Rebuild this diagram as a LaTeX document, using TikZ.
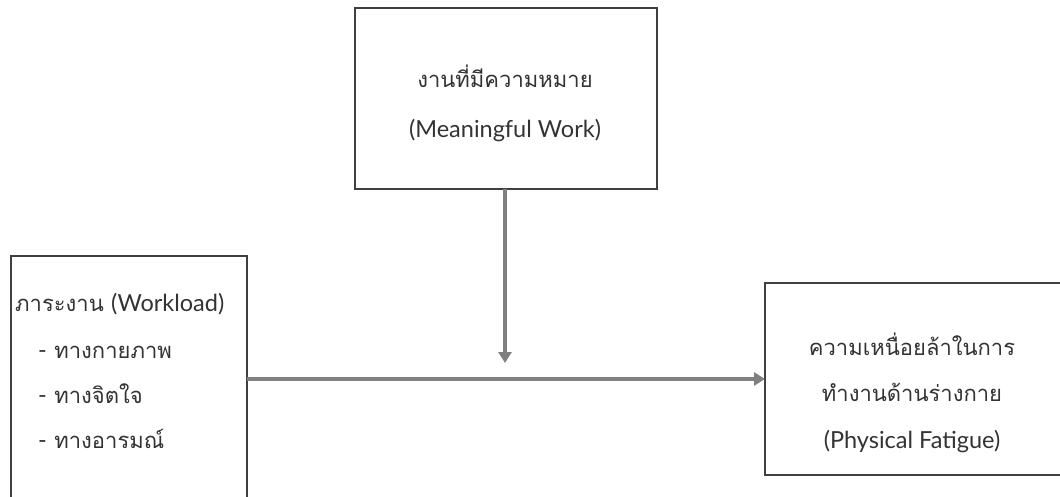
\documentclass[tikz,border=0pt]{standalone}
\usepackage{fontspec}
\newfontfamily\thaifont[Script=Thai]{Loma}
\newfontfamily\latinfont{Lato}
\newcommand{\lat}[1]{{\latinfont\fontsize{23.5}{26}\selectfont #1}}
\usetikzlibrary{arrows.meta}
\tikzset{
  box/.style={draw=black!75, line width=1.2pt, rectangle, inner sep=0pt, outer sep=0pt},
  label/.style={text=black!80, font=\thaifont\fontsize{22}{26}\selectfont, inner sep=0pt, anchor=base},
  leftlabel/.style={label, anchor=base west},
  link/.style={draw=black!50, line width=4pt, -{Triangle[length=11pt,width=13pt]}}
}
\begin{document}
\begin{tikzpicture}[x=1pt, y=-1pt]
  \useasboundingbox (0,0) rectangle (1060,497);
  \begin{scope}
    \clip (0,0) rectangle (1060,497);
    % boxes
    \node[box, minimum width=302pt, minimum height=181pt] (top) at (506,98.5) {};
    \node[box, minimum width=236pt, minimum height=246pt] (left) at (129,379) {};
    \node[box, minimum width=296pt, minimum height=192pt] (right) at (913,379) {};
    % texts of the moderator box
    \node[label] (t1) at (505,88) {งานที่มีความหมาย};
    \node[label] (t2) at (505,138) {\lat{(Meaningful Work)}};
    % texts of the workload box
    \node[leftlabel] (l1) at (15,311) {ภาระงาน \lat{(Workload)}};
    \node[leftlabel] (l2) at (38,358) {\lat{-} ทางกายภาพ};
    \node[leftlabel] (l3) at (38,403) {\lat{-} ทางจิตใจ};
    \node[leftlabel] (l4) at (38,448) {\lat{-} ทางอารมณ์};
    % texts of the outcome box
    \node[label] (r1) at (912,355) {ความเหนื่อยล้าในการ};
    \node[label] (r2) at (912,401) {ทำงานด้านร่างกาย};
    \node[label] (r3) at (912,448) {\lat{(Physical Fatigue)}};
    % connectors
    \coordinate (vtip) at (505,363);
    \coordinate (hrow) at (0,379);
    \draw[link] (top.south -| vtip) -- (vtip);
    \draw[link] (left.east |- hrow) -- (right.west |- hrow);
  \end{scope}
\end{tikzpicture}
\end{document}
